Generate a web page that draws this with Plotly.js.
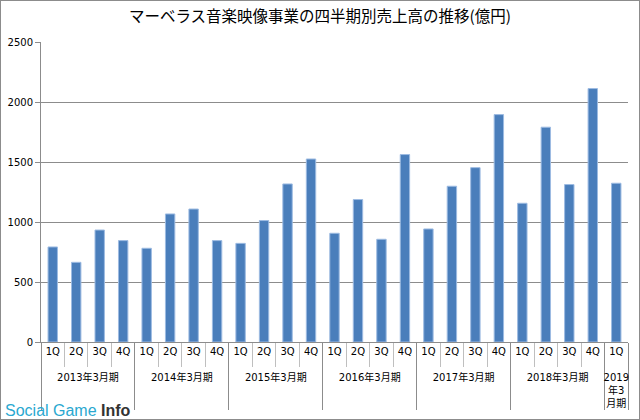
<!DOCTYPE html>
<html>
<head>
<meta charset="utf-8">
<script src="https://cdn.plot.ly/plotly-3.0.1.min.js"></script>
<style>
html,body{margin:0;padding:0;background:#fff;}
#chart{width:640px;height:420px;box-sizing:border-box;border:1px solid #8c8c8c;}
</style>
</head>
<body>
<div id="chart"></div>
<script>
const fiscalYears = ["2013年3月期","2014年3月期","2015年3月期","2016年3月期","2017年3月期","2018年3月期","2019<br>年3<br>月期"];
const quarters = ["1Q","2Q","3Q","4Q"];
const quartersPerYear = [4,4,4,4,4,4,1];
const sales = [792, 664, 933, 845,
               781, 1067, 1108, 845,
               822, 1012, 1317, 1525,
               906, 1187, 856, 1562,
               942, 1298, 1453, 1895,
               1156, 1790, 1312, 2112,
               1323];
const titleText = "マーベラス音楽映像事業の四半期別売上高の推移(億円)";

const xYear = [], xQ = [];
fiscalYears.forEach((fy, i) => {
  for (let q = 0; q < quartersPerYear[i]; q++) { xYear.push(" <br>" + fy); xQ.push(quarters[q]); }
});

const trace = {
  type: "bar",
  x: [xYear, xQ],
  y: sales,
  marker: {color: "#4a7ebb", line: {color: "#9dbbe2", width: 1}},
  width: 0.4,
  hoverinfo: "y"
};

const layout = {
  width: 638, height: 418,
  margin: {l: 40, r: 11, t: 41, b: 77},
  paper_bgcolor: "#fff", plot_bgcolor: "#fff",
  font: {family: "DejaVu Sans, Verdana, sans-serif", size: 10, color: "#000"},
  title: {text: titleText, x: 0.5, xanchor: "center", y: 0.975, yanchor: "top",
          font: {family: "Noto Sans CJK JP, sans-serif", size: 15.5, color: "#000"}},
  showlegend: false,
  xaxis: {
    type: "multicategory",
    showline: true, linecolor: "#8c8c8c", linewidth: 1,
    ticks: "outside", tickson: "boundaries", ticklen: 24, tickcolor: "#bfbfbf",
    showdividers: true, dividercolor: "#8c8c8c", dividerwidth: 1,
    tickfont: {family: "DejaVu Sans, Noto Sans CJK JP, sans-serif", size: 10},
    showgrid: false, fixedrange: true
  },
  yaxis: {
    range: [0, 2500], dtick: 500, tick0: 0,
    showgrid: true, gridcolor: "#8c8c8c", gridwidth: 1,
    showline: true, linecolor: "#8c8c8c", linewidth: 1,
    ticks: "outside", ticklen: 5, tickcolor: "#8c8c8c",
    zeroline: false,
    tickfont: {family: "DejaVu Sans, Verdana, sans-serif", size: 10},
    fixedrange: true
  },
  annotations: [{
    xref: "paper", yref: "paper", x: -0.065, y: -0.262, xanchor: "left", yanchor: "bottom",
    showarrow: false,
    text: "<span style='color:#2aa8d0'>Social Game </span><b style='color:#333'>Info</b>",
    font: {family: "Liberation Sans, Arial, sans-serif", size: 16}
  }]
};

Plotly.newPlot("chart", [trace], layout, {displayModeBar: false, staticPlot: true});
</script>
</body>
</html>
